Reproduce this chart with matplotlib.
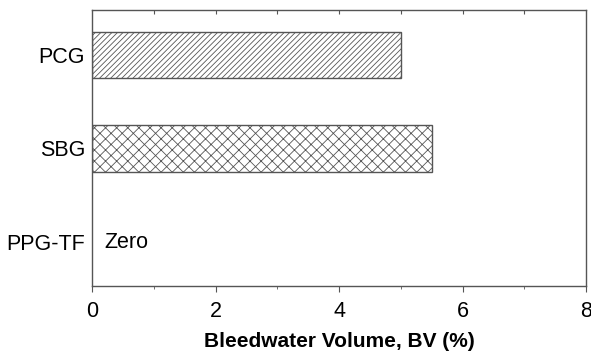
import numpy as np
import matplotlib.pyplot as plt

plt.rcParams['font.family'] = ['Liberation Sans', 'DejaVu Sans']
plt.rcParams['hatch.linewidth'] = 0.6

# data
groups = ['PPG-TF', 'SBG', 'PCG']
bleed = [0.0, 5.5, 5.0]
hatches = ['', 'xxx', '//////']

fig = plt.figure(figsize=(5.91, 3.51), dpi=100)
ax = fig.add_axes([92/591, 1-286/351, 494/591, 276/351])

pos = np.arange(len(groups))
for p, v, h in zip(pos, bleed, hatches):
    if v > 0:
        ax.barh(p, v, height=0.5, color='white', edgecolor='#555555',
                hatch=h, linewidth=1.0)
ax.text(0.2, 0, 'Zero', fontsize=15.5, va='center', ha='left')

ax.set_xlim(0, 8)
ax.set_ylim(-0.47, 2.48)
ax.set_yticks(pos)
ax.set_yticklabels(groups, fontsize=15.5)
ax.tick_params(axis='y', length=0, pad=5)
ax.set_xticks([0, 2, 4, 6, 8])
ax.set_xticks([1, 3, 5, 7], minor=True)
ax.tick_params(axis='x', which='major', direction='out', length=4, labelsize=15.5,
               color='#555555', pad=7)
ax.tick_params(axis='x', which='minor', direction='out', length=2.5,
               color='#555555')
# top ticks pointing inward at every unit
top = ax.secondary_xaxis('top')
top.set_xticks(np.arange(1, 8))
top.tick_params(direction='in', length=3, labeltop=False, color='#555555')
top.spines['top'].set_visible(False)
ax.set_xlabel('Bleedwater Volume, BV (%)', fontsize=15, fontweight='bold', labelpad=7)
for s in ax.spines.values():
    s.set_color('#555555')
    s.set_linewidth(1.0)

fig.savefig('out.png', dpi=100)
